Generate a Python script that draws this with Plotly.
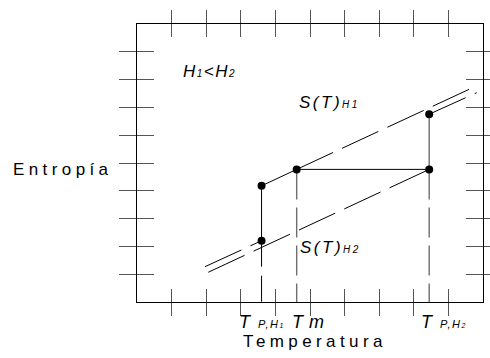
import plotly.graph_objects as go

# ---- data (T = temperature, S = entropy), axis units 0..10 ----
frame_ticks = [1, 2, 3, 4, 5, 6, 7, 8, 9]

T_PH1 = 3.60
T_M = 4.615
T_PH2 = 8.445

# H1 curve pieces
h1_low_T = [1.965, 3.60]
h1_low_S = [1.27, 2.205]
h1_solid_T = [3.60, 4.615]
h1_solid_S = [4.18, 4.77]
h1_high_T = [4.615, 9.72]
h1_high_S = [4.77, 7.72]

# H2 curve pieces
h2_low_T = [2.06, 8.445]
h2_low_S = [1.07, 4.77]
h2_high_T = [8.445, 9.82]
h2_high_S = [6.755, 7.53]

# marked points A, B, C, D, E
pts_T = [3.60, 3.60, 4.615, 8.445, 8.445]
pts_S = [2.205, 4.18, 4.77, 4.77, 6.755]

FONT = "Liberation Sans, Arial, sans-serif"
BLACK = "#000000"
GRAY = "#6e6e6e"
LONGDASH = "40px,10px"
VDASH = "30px,8px"

fig = go.Figure()

def seg(x, y, color=BLACK, dash="solid", width=1):
    fig.add_trace(go.Scatter(x=x, y=y, mode="lines",
                             line=dict(color=color, dash=dash, width=width),
                             hoverinfo="skip", showlegend=False))

# slanted S(T) lines
seg(h1_low_T, h1_low_S, dash=LONGDASH)
seg(h1_high_T, h1_high_S, dash=LONGDASH)
seg(h2_low_T, h2_low_S, dash=LONGDASH)
seg(h2_high_T, h2_high_S, dash=LONGDASH)

# solid path
seg(h1_solid_T, h1_solid_S)
seg([T_PH1, T_PH1], [pts_S[0], pts_S[1]])
seg([T_M, T_PH2], [pts_S[2], pts_S[3]])

# verticals to the axis
seg([T_PH1, T_PH1], [pts_S[0], 0], dash="26px,9px")
seg([T_M, T_M], [pts_S[2], 0], color=GRAY, dash=VDASH, width=1.4)
seg([T_PH2, T_PH2], [pts_S[4], pts_S[3]], color=GRAY, width=1.4)
seg([T_PH2, T_PH2], [pts_S[3], 0], color=GRAY, dash=VDASH, width=1.4)

# dots
fig.add_trace(go.Scatter(x=pts_T, y=pts_S, mode="markers",
                         marker=dict(color=BLACK, size=8),
                         hoverinfo="skip", showlegend=False))

# dummy trace for inner-tick axes
fig.add_trace(go.Scatter(x=[None], y=[None], xaxis="x2", yaxis="y2",
                         showlegend=False, hoverinfo="skip"))

def sp(text, ls):
    return f'<span style="letter-spacing:{ls}px">{text}</span>'

def small(text, size):
    return f'<span style="font-size:{size}px">{text}</span>'

W, H = 490, 358
ML, MR, MT, MB = 137, 7, 24, 56
pw, ph = W - ML - MR, H - MT - MB

ann = []
# labels inside the plot
ann.append(dict(x=1.34, y=8.28, xref="x", yref="y", xanchor="left", yanchor="middle",
                text=sp("H" + small("1", 10) + "&lt;H" + small("2", 10), 1.5),
                font=dict(family=FONT, size=17, style="italic", color=BLACK)))
ann.append(dict(x=4.69, y=7.18, xref="x", yref="y", xanchor="left", yanchor="middle",
                text=sp("S(T)" + small("H1", 10), 2.5),
                font=dict(family=FONT, size=17, style="italic", color=BLACK)))
ann.append(dict(x=4.71, y=1.96, xref="x", yref="y", xanchor="left", yanchor="middle",
                text=sp("S(T)" + small("H2", 10), 2.5),
                font=dict(family=FONT, size=17, style="italic", color=BLACK)))

# temperature labels
ann.append(dict(x=T_PH1, y=0, xref="x", yref="y", xanchor="center", yanchor="top",
                yshift=-10,
                text=sp("T " + small("P,H", 11) + small("1", 7), 1.5),
                font=dict(family=FONT, size=18, style="italic", color=BLACK)))
ann.append(dict(x=T_M, y=0, xref="x", yref="y", xanchor="left", yanchor="top",
                xshift=-5, yshift=-10,
                text=sp("T m", 0.5),
                font=dict(family=FONT, size=18, style="italic", color=BLACK)))
ann.append(dict(x=T_PH2, y=0, xref="x", yref="y", xanchor="left", yanchor="top",
                xshift=-8, yshift=-10,
                text=sp("T " + small("P,H", 11) + small("2", 7), 1.5),
                font=dict(family=FONT, size=18, style="italic", color=BLACK)))

# axis titles
ann.append(dict(x=(12.5 - ML) / pw, y=(H - MB - 169) / ph, xref="paper", yref="paper",
                text=sp("Entropía", 4.4), xanchor="left", yanchor="middle",
                font=dict(family=FONT, size=17, color=BLACK)))
ann.append(dict(x=(315 - ML) / pw, y=0, xref="paper", yref="paper",
                text=sp("Temperatura", 4.4),
                xanchor="center", yanchor="top", yshift=-30,
                font=dict(family=FONT, size=17, color=BLACK)))

for a in ann:
    a["showarrow"] = False
    a["borderpad"] = 0
    a["borderwidth"] = 0

common_x = dict(range=[0, 10], tickvals=frame_ticks, showticklabels=False,
                showgrid=False, zeroline=False, ticklen=13, tickwidth=1,
                tickcolor="#555555", automargin=False)
common_y = dict(range=[0, 10], tickvals=frame_ticks, showticklabels=False,
                showgrid=False, zeroline=False, ticklen=17, tickwidth=1,
                tickcolor="#555555", automargin=False)

fig.update_layout(
    width=W, height=H,
    margin=dict(l=ML, r=MR, t=MT, b=MB, pad=0, autoexpand=False),
    paper_bgcolor="white", plot_bgcolor="white",
    showlegend=False,
    xaxis=dict(**common_x, ticks="outside", mirror="ticks", showline=True,
               linecolor=BLACK, linewidth=1),
    yaxis=dict(**common_y, ticks="outside", mirror="ticks", showline=True,
               linecolor=BLACK, linewidth=1),
    xaxis2=dict(**common_x, ticks="inside", mirror="ticks", showline=False,
                overlaying="x", anchor="y2"),
    yaxis2=dict(**common_y, ticks="inside", mirror="ticks", showline=False,
                overlaying="y", anchor="x2"),
    annotations=ann,
)

fig.write_html("out.html",
               config={"displayModeBar": False},
               post_script="document.body.style.margin='0';"
                           "document.body.style.overflow='hidden';")
